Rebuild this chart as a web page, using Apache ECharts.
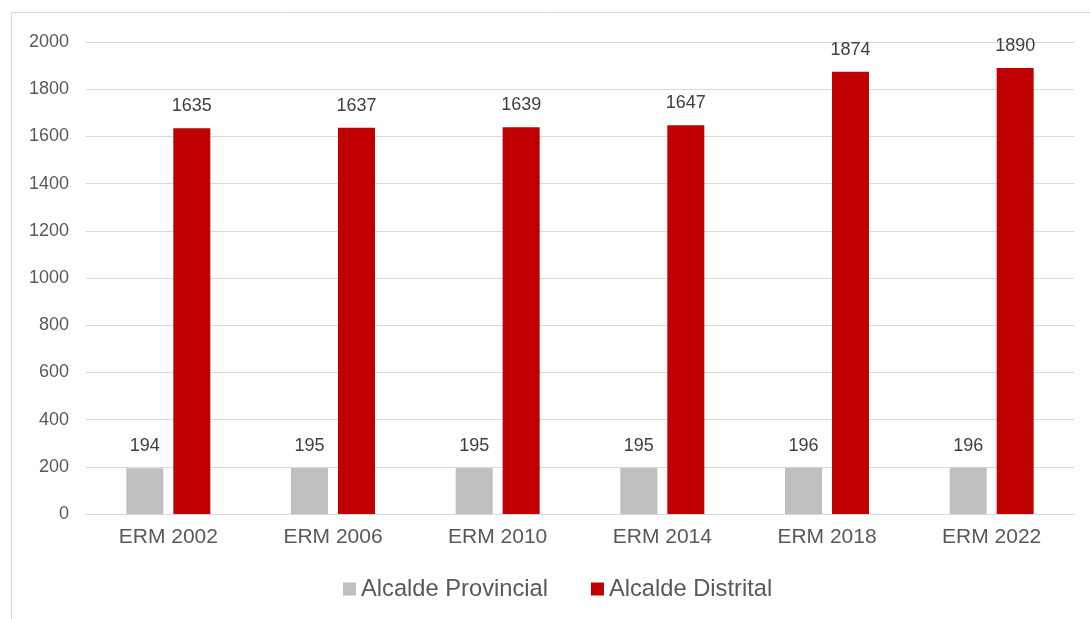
<!DOCTYPE html>
<html>
<head>
<meta charset="utf-8">
<script src="https://cdn.jsdelivr.net/npm/echarts@6/dist/echarts.min.js"></script>
<style>
html,body{margin:0;padding:0;background:#fff;}
#c{width:1090px;height:619px;}
</style>
</head>
<body>
<div id="c"></div>
<script>
const categories = ['ERM 2002','ERM 2006','ERM 2010','ERM 2014','ERM 2018','ERM 2022'];
const provincial = [194,195,195,195,196,196];
const distrital = [1635,1637,1639,1647,1874,1890];
const seriesNames = ['Alcalde Provincial','Alcalde Distrital'];

const chart = echarts.init(document.getElementById('c'), null, {renderer:'canvas'});
const font = 'Liberation Sans, Arial, sans-serif';
const labelStyle = {show:true, position:'top', distance:13, color:'#404040', fontSize:18, fontFamily:font};
chart.setOption({
  animation:false,
  backgroundColor:'#fff',
  graphic:[{type:'rect', shape:{x:11.5,y:12.5,width:1200,height:700}, style:{fill:'none', stroke:'#d9d9d9', lineWidth:1}, silent:true}],
  grid:{left:86,right:16,top:42,bottom:105,containLabel:false},
  legend:{
    data:seriesNames, left:343, top:577, padding:0, itemWidth:13, itemHeight:13, itemGap:43,
    icon:'rect',
    textStyle:{color:'#595959', fontSize:23.7, fontFamily:font, padding:[0,0,0,0]}
  },
  xAxis:{
    type:'category', data:categories,
    axisLine:{lineStyle:{color:'#d9d9d9', width:1}},
    axisTick:{show:false},
    axisLabel:{color:'#595959', fontSize:21, fontFamily:font, margin:13}
  },
  yAxis:{
    type:'value', min:0, max:2000, interval:200,
    axisLine:{show:false}, axisTick:{show:false},
    splitLine:{lineStyle:{color:'#d9d9d9', width:1}},
    axisLabel:{color:'#595959', fontSize:18, fontFamily:font, margin:17, formatter:function(v){return String(v);}}
  },
  series:[
    {name:seriesNames[0], type:'bar', data:provincial, barWidth:37, barGap:'27%', itemStyle:{color:'#bfbfbf'}, label:labelStyle},
    {name:seriesNames[1], type:'bar', data:distrital, barWidth:37, barGap:'27%', itemStyle:{color:'#c00000'}, label:labelStyle}
  ]
});
</script>
</body>
</html>
